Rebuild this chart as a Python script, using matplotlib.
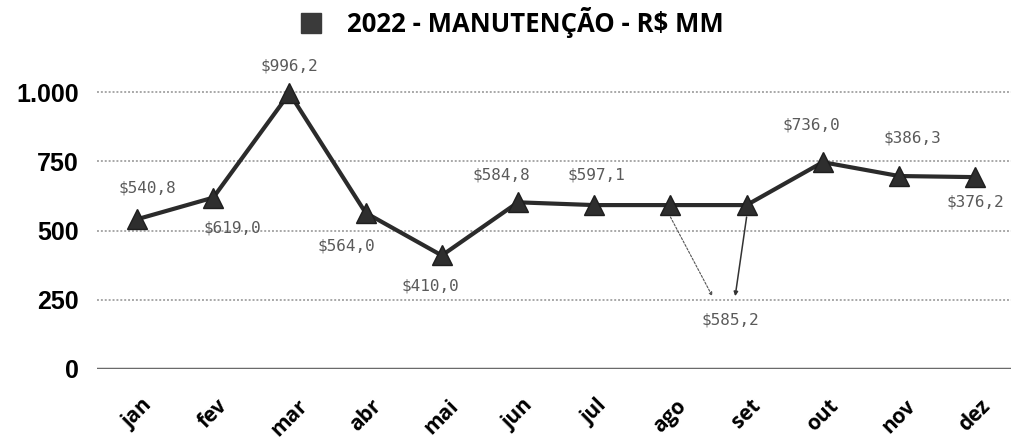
import numpy as np
import matplotlib.pyplot as plt
from matplotlib.lines import Line2D

# dados do gráfico
meses = ['jan', 'fev', 'mar', 'abr', 'mai', 'jun', 'jul', 'ago', 'set', 'out', 'nov', 'dez']
valores = [540.8, 619.0, 996.2, 564.0, 410.0, 602.0, 592.0, 592.0, 592.0, 747.0, 697.0, 693.0]
rotulos = ['$540,8', '$619,0', '$996,2', '$564,0', '$410,0', '$584,8', '$597,1',
           '', '', '$736,0', '$386,3', '$376,2']
# deslocamento dos rótulos (pixels)
desloc = [(10, 31), (19, -30), (0, 27), (-19, -33), (-11, -31), (-17, 27), (2, 30),
          (0, 0), (0, 0), (-11, 37), (13, 38), (0, -25)]
rotulo_agoset = '$585,2'
yticks = [0, 250, 500, 750, 1000]
ytick_labels = ['0', '250', '500', '750', '1.000']

fig = plt.figure(figsize=(10.11, 4.41), dpi=100)
ax = fig.add_axes([0.096, 0.1633, 0.904, 0.678])

x = np.arange(len(meses))
ax.plot(x, valores, color='#2b2b2b', lw=3, marker='^', ms=14, mfc='#2e2e2e', mec='#1e1e1e', zorder=3)

rot_kw = dict(ha='center', va='center', fontsize=11.5, color='#5a5a5a',
              family='DejaVu Sans Mono', annotation_clip=False)
for i, t in enumerate(rotulos):
    if t:
        ax.annotate(t, (x[i], valores[i]), xytext=desloc[i], textcoords='offset pixels', **rot_kw)

# rótulo compartilhado de ago/set com linhas guia
ax.annotate(rotulo_agoset, (7.55, 263), xytext=(18, -24), textcoords='offset pixels', **rot_kw)
ax.annotate('', (7.55, 263), xytext=(x[7], 549),
            arrowprops=dict(arrowstyle='-|>', mutation_scale=5, color='#555555', lw=0.8,
                            linestyle=(0, (2, 1.5)), shrinkA=0, shrinkB=0))
ax.annotate('', (7.85, 263), xytext=(x[8], 549),
            arrowprops=dict(arrowstyle='-|>', mutation_scale=6, color='#333333', lw=1.1,
                            shrinkA=0, shrinkB=0))

ax.set_xlim(-0.525, 11.47)
ax.set_ylim(0, 1080)
ax.set_yticks(yticks)
ax.set_yticklabels(ytick_labels, fontsize=18, fontweight='bold', family='Liberation Sans')
ax.set_xticks(x)
ax.set_xticklabels(meses, rotation=45, ha='center', fontsize=15, fontweight='bold',
                   family='Open Sans')
ax.tick_params(axis='both', length=0)
ax.tick_params(axis='x', pad=19)
ax.tick_params(axis='y', pad=13)

for v in yticks[1:]:
    ax.axhline(v, color='#a8a8a8', lw=1.4, ls=(0, (1, 1)), zorder=1)
ax.axhline(0, color='#6a6a6a', lw=2.5, zorder=1)
for s in ax.spines.values():
    s.set_visible(False)

leg = fig.legend(handles=[Line2D([], [], marker='s', ls='', ms=15, color='#3a3a3a')],
                 labels=['2022 - MANUTENÇÃO - R$ MM'], loc='center',
                 bbox_to_anchor=(0.505, 0.95), frameon=False, handlelength=1.0,
                 handletextpad=0.9, prop=dict(family='Open Sans', weight='bold', size=18.5))

fig.savefig('out.png', dpi=100)
